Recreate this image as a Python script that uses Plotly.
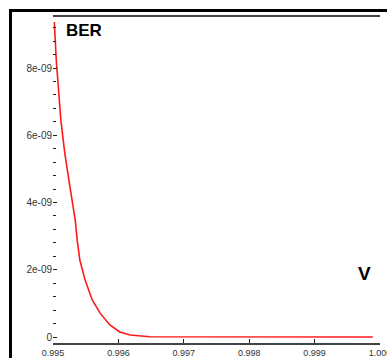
import plotly.graph_objects as go

# Data
volts = [0.99502, 0.99505, 0.99512, 0.99518, 0.99526, 0.99534, 0.99537, 0.99541,
         0.99549, 0.99560, 0.99572, 0.99587, 0.99602, 0.99618, 0.99648, 0.99725,
         0.99878, 0.99989]
ber = [9.37e-9, 8.24e-9, 6.45e-9, 5.47e-9, 4.46e-9, 3.48e-9, 2.88e-9, 2.29e-9,
       1.70e-9, 1.10e-9, 0.71e-9, 0.36e-9, 0.15e-9, 0.06e-9, 0.01e-9, 0.003e-9,
       0.001e-9, 0.0]

x_ticks = [0.995, 0.996, 0.997, 0.998, 0.999, 1.000]
x_labels = ["0.995", "0.996", "0.997", "0.998", "0.999", "1.000"]
y_ticks = [0, 2e-9, 4e-9, 6e-9, 8e-9]
y_labels = ["0", "2e-09", "4e-09", "6e-09", "8e-09"]

W, H = 387, 358
L, R, T, B = 53, 7, 17, 15
pw, ph = W - L - R, H - T - B

fig = go.Figure()
fig.add_trace(go.Scatter(x=volts, y=ber, mode="lines",
                         line=dict(color="#ff1a1a", width=1.6),
                         showlegend=False, hoverinfo="skip"))

fig.update_layout(
    width=W, height=H,
    margin=dict(l=L, r=R, t=T, b=B, autoexpand=False),
    paper_bgcolor="white", plot_bgcolor="white",
    font=dict(family="Liberation Sans", size=10, color="#333"),
    xaxis=dict(range=[0.995, 1.000], tickmode="array", tickvals=x_ticks,
               ticktext=x_labels, showgrid=False, zeroline=False,
               showline=True, linecolor="#444", linewidth=2, mirror=True,
               ticks="inside", ticklen=4, tickcolor="#222",
               ticklabelstandoff=0, ticklabeloverflow="allow",
               tickfont=dict(size=9, color="#333"), automargin=False),
    yaxis=dict(range=[-0.178e-9, 9.517e-9], tickmode="array", tickvals=y_ticks,
               ticktext=y_labels, showgrid=False, zeroline=False,
               showline=False, ticks="inside", ticklen=4, tickcolor="#222",
               minor=dict(tickmode="linear", tick0=0, dtick=0.4e-9,
                          ticks="inside", ticklen=3, tickcolor="#222"),
               tickfont=dict(size=10, color="#333"), automargin=False),
)

# outer black frame
fig.add_shape(type="rect", xref="paper", yref="paper",
              x0=(10.5 - L) / pw, x1=1.2, y0=-0.2, y1=1 + (T - 10.5) / ph,
              line=dict(color="black", width=3), layer="above")

fig.add_annotation(text="<b>BER</b>", xref="paper", yref="paper",
                   x=(64 - L) / pw, y=(H - B - 31) / ph, xanchor="left",
                   yanchor="middle", showarrow=False,
                   font=dict(family="Liberation Sans", size=17, color="black"))
fig.add_annotation(text="<b>V</b>", xref="paper", yref="paper",
                   x=(364 - L) / pw, y=(H - B - 273) / ph, xanchor="center",
                   yanchor="middle", showarrow=False,
                   font=dict(family="Liberation Sans", size=19, color="black"))

fig.write_html("out.html", config={"displayModeBar": False},
               post_script="document.body.style.margin='0';"
                           "document.body.style.overflow='hidden';")
